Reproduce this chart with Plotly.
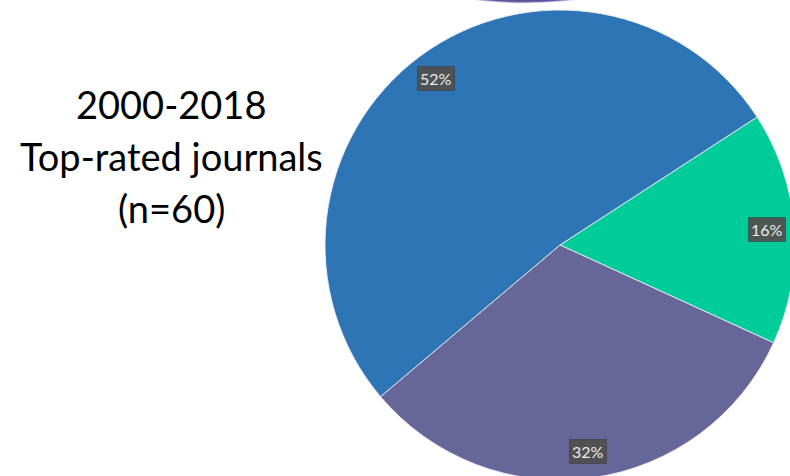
import math
import plotly.graph_objects as go

# Share of top-rated journal articles by group, 2000-2018 (n=60)
categories = ["Group C", "Group B", "Group A"]
shares = [16, 32, 52]
colors = ["#00CC99", "#666699", "#2E75B6"]

title_lines = ["2000-2018", "Top-rated journals", "(n=60)"]

# Canvas and pie geometry (pixels)
W, H = 800, 490
CX, CY, R = 560, 245, 235
ROTATION = 57
LABEL_FRAC = 0.885

fig = go.Figure()

fig.add_trace(go.Pie(
    labels=categories,
    values=shares,
    sort=False,
    direction="clockwise",
    rotation=ROTATION,
    marker=dict(colors=colors, line=dict(color="rgba(235,235,245,0.9)", width=1)),
    textinfo="none",
    hoverinfo="label+percent",
    showlegend=False,
    domain=dict(x=[(CX - R) / W, (CX + R) / W],
                y=[1 - (CY + R) / H, 1 - (CY - R) / H]),
))

# Percentage badges placed along each slice's mid-angle
total = sum(shares)
start = ROTATION
annotations = []
for v in shares:
    span = 360 * v / total
    mid = math.radians(start + span / 2)
    start += span
    px = CX + R * LABEL_FRAC * math.sin(mid)
    py = CY - R * LABEL_FRAC * math.cos(mid)
    annotations.append(dict(
        x=px / W, y=1 - py / H, xref="paper", yref="paper",
        text=f"{v}%", showarrow=False,
        font=dict(family="Lato, sans-serif", size=16, color="#ececec"),
        bgcolor="rgba(80,80,80,0.95)", borderpad=2,
        bordercolor="rgba(50,50,50,0.45)", borderwidth=1,
        xanchor="center", yanchor="middle",
    ))

# Left-hand caption
for i, line in enumerate(title_lines):
    annotations.append(dict(
        x=171 / W, y=1 - (104 + 52 * i) / H, xref="paper", yref="paper",
        text=line, showarrow=False,
        font=dict(family="Lato, sans-serif", size=38, color="#000000"),
        xanchor="center", yanchor="middle",
    ))

# Edge of the neighbouring pie just above this one
shapes = [dict(
    type="circle", xref="paper", yref="paper",
    x0=(525 - 400) / W, x1=(525 + 400) / W,
    y0=1 - 2.5 / H, y1=1 + 797.5 / H,
    fillcolor="#5e5399", line=dict(color="rgba(170,160,215,0.5)", width=1.5),
    layer="below",
)]

fig.update_layout(
    width=W, height=H,
    margin=dict(l=0, r=0, t=0, b=0),
    paper_bgcolor="white", plot_bgcolor="white",
    annotations=annotations,
    shapes=shapes,
)

fig.write_html("out.html")
